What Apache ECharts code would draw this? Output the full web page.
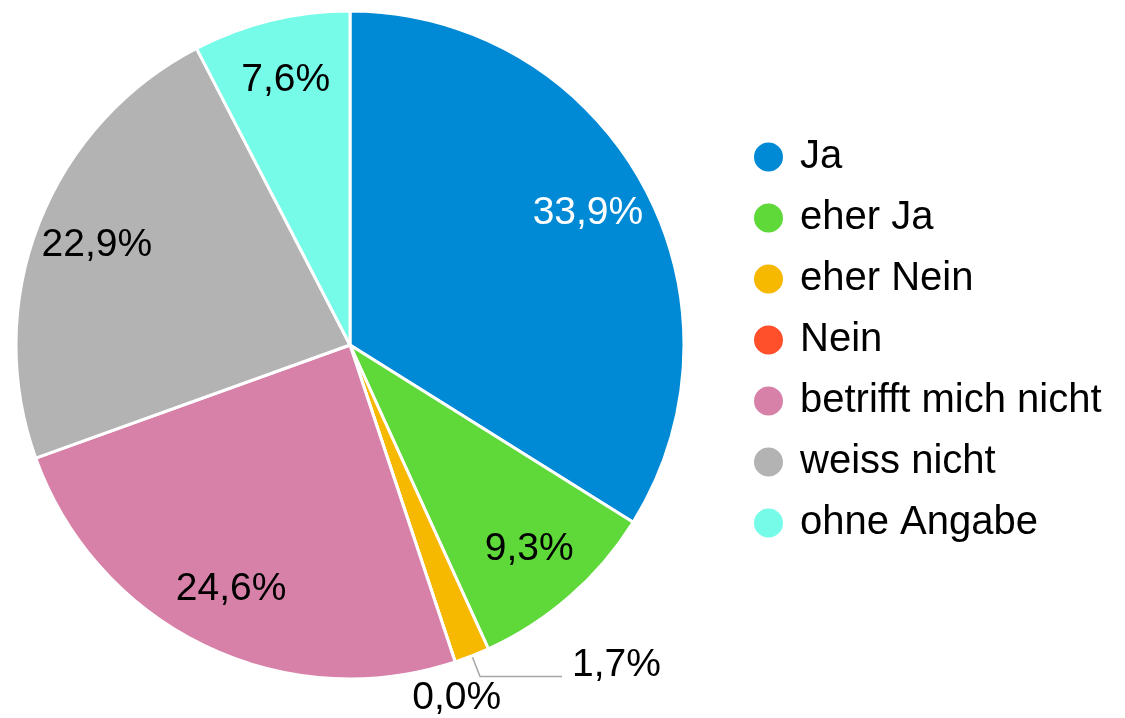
<!DOCTYPE html>
<html>
<head>
<meta charset="utf-8">
<script src="https://cdn.jsdelivr.net/npm/echarts@6/dist/echarts.min.js"></script>
<style>
    html, body { margin: 0; padding: 0; background: #fff; }
    #chart { width: 1125px; height: 718px; }
</style>
</head>
<body>
<div id="chart"></div>
<script>
var categories = ['Ja', 'eher Ja', 'eher Nein', 'Nein', 'betrifft mich nicht', 'weiss nicht', 'ohne Angabe'];
var values = [33.9, 9.3, 1.7, 0.0, 24.6, 22.9, 7.6];
var colors = ['#0089d5', '#5fd83a', '#f7b800', '#ff4f2b', '#d781a9', '#b3b3b3', '#76fbe9'];
var outsideNames = ['eher Nein', 'Nein']; // kleine Segmente: Beschriftung aussen

var FONT = 'Liberation Sans, Arial, sans-serif';

function fmt(p) {
    return p.value.toFixed(1).replace('.', ',') + '%';
}

var chart = echarts.init(document.getElementById('chart'));

// Hauptkreis mit Farben, nur Aussenbeschriftungen
var mainData = categories.map(function(name, i) {
    var item = {
        name: name,
        value: values[i],
        itemStyle: { color: colors[i] },
        label: { show: false },
        labelLine: { show: false }
    };
    if (name === 'eher Nein') {
        item.label = { show: true, padding: [0, 0, 0, 5] };
        item.labelLine = { show: true };
    }
    if (name === 'Nein') {
        item.label = { show: true };
    }
    return item;
});

// unsichtbarer Ring, nur fuer die Innenbeschriftungen (weiter aussen als Standard)
var labelData = categories.map(function(name, i) {
    return {
        name: name,
        value: values[i],
        label: {
            show: outsideNames.indexOf(name) < 0,
            color: name === 'Ja' ? '#fff' : '#000'
        }
    };
});

var option = {
    animation: false,
    legend: {
        orient: 'vertical',
        left: 747,
        top: 132,
        icon: 'circle',
        itemWidth: 31,
        itemHeight: 31,
        itemGap: 21,
        data: categories,
        textStyle: {
            fontFamily: FONT,
            fontSize: 40,
            color: '#000',
            padding: [0, 0, 0, 11]
        }
    },
    series: [
        {
            type: 'pie',
            radius: 334,
            center: [350, 345],
            startAngle: 90,
            clockwise: true,
            avoidLabelOverlap: false,
            stillShowZeroSum: true,
            silent: true,
            itemStyle: { borderColor: '#fff', borderWidth: 3 },
            label: {
                position: 'outside',
                formatter: fmt,
                fontFamily: FONT,
                fontSize: 39,
                color: '#000'
            },
            labelLine: {
                length: 22,
                length2: 82,
                lineStyle: { color: '#a6a6a6', width: 1.5 }
            },
            labelLayout: function(params) {
                // 0,0% zentriert unter dem Randpunkt des leeren Segments
                if (params.dataIndex === 3) {
                    return {
                        x: params.rect.x + params.rect.width,
                        y: params.rect.y + params.rect.height + 35,
                        align: 'center',
                        verticalAlign: 'middle'
                    };
                }
                // 1,7% etwas ueber dem Linienende
                if (params.dataIndex === 2) {
                    return { dy: -11 };
                }
            },
            data: mainData
        },
        {
            type: 'pie',
            radius: [204, 334],
            center: [350, 345],
            startAngle: 90,
            clockwise: true,
            silent: true,
            itemStyle: { color: 'transparent', borderWidth: 0 },
            label: {
                position: 'inside',
                formatter: fmt,
                fontFamily: FONT,
                fontSize: 39
            },
            labelLine: { show: false },
            emphasis: { disabled: true },
            data: labelData
        }
    ]
};

chart.setOption(option);
</script>
</body>
</html>
